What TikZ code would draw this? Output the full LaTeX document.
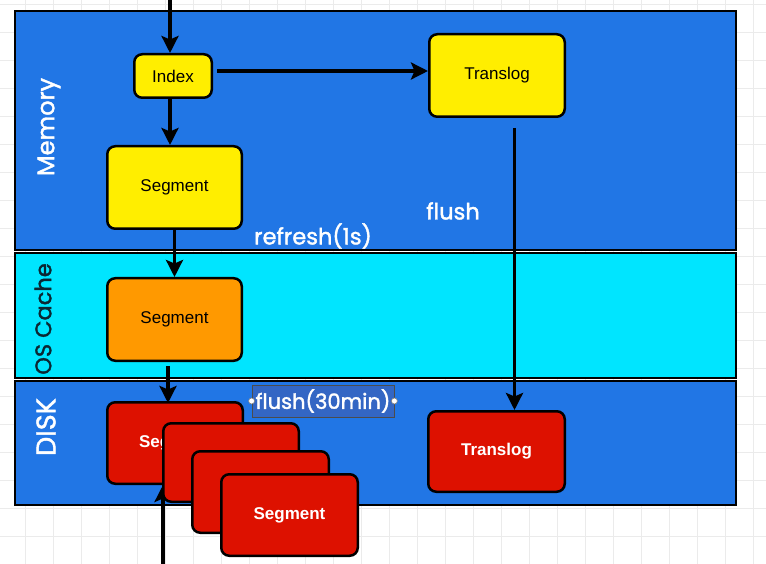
\documentclass[tikz,border=0pt]{standalone}
\usepackage{fontspec}
\setmainfont{Liberation Sans}
\newfontfamily\labfont[FakeBold=1.6]{Poppins}
\usetikzlibrary{arrows.meta}
\definecolor{bandblue}{HTML}{2176E5}
\definecolor{cachecyan}{HTML}{00E5FF}
\definecolor{memyellow}{HTML}{FFEE00}
\definecolor{cacheorange}{HTML}{FF9900}
\definecolor{diskred}{HTML}{DD1100}
\definecolor{selblue}{HTML}{3366C4}
\definecolor{gridgray}{HTML}{EBEBEB}
\definecolor{darktext}{HTML}{0B2733}
\begin{document}
\begin{tikzpicture}[x=1pt,y=-1pt,
  band/.style={draw=black, line width=2pt},
  box/.style={draw=black, line width=2.5pt, rounded corners=8pt, inner sep=0pt,
    font=\fontsize{17}{20}\selectfont},
  flow/.style={line width=3.5pt, -{Stealth[length=17pt,width=17pt,inset=3.5pt]}},
  lab/.style={text=white, font=\labfont\fontsize{22.5}{26}\selectfont, inner sep=0pt},
  handle/.style={circle, draw=gray, fill=white, line width=0.6pt, inner sep=0pt, minimum size=6pt}
]
\useasboundingbox (0,0) rectangle (766,564);
\fill[white] (0,0) rectangle (766,564);
% grid
\foreach \x in {25,53,...,765} \draw[gridgray, line width=0.8pt] (\x,0) -- (\x,564);
\foreach \y in {4,32,...,564} \draw[gridgray, line width=0.8pt] (0,\y) -- (766,\y);
% bands
\node[band, fill=bandblue, minimum width=721, minimum height=239, inner sep=0pt] (mem) at (375.5,130.5) {};
\node[band, fill=cachecyan, minimum width=721, minimum height=124, inner sep=0pt] (cache) at (375.5,315.5) {};
\node[band, fill=bandblue, minimum width=721, minimum height=124, inner sep=0pt] (disk) at (375.5,443) {};
% band labels
\node[lab, rotate=90, font=\labfont\fontsize{24}{28}\selectfont] (memlab) at (49,127) {Memory};
\node[lab, rotate=90, text=darktext] (cachelab) at (43,319) {OS Cache};
\node[lab, rotate=90, font=\labfont\fontsize{27}{30}\selectfont] (disklab) at (46,427) {DISK};
\node[lab] (refresh) at (313,236) {refresh(1s)};
\node[lab] (flush) at (453,211) {flush};
% memory boxes
\node[box, fill=memyellow, minimum width=77.5, minimum height=43.5] (idx) at (173,76) {Index};
\node[box, fill=memyellow, minimum width=135.5, minimum height=82.5] (tlm) at (497,75.5) {Translog};
\node[box, fill=memyellow, minimum width=134.5, minimum height=82.5] (segm) at (174.5,187.5) {Segment};
\node[box, fill=cacheorange, minimum width=134.5, minimum height=82.5] (segos) at (174.5,319.5) {Segment};
\node[box, fill=diskred, text=white, font=\fontsize{17}{20}\selectfont\bfseries, minimum width=136.5, minimum height=80.5] (tld) at (496.5,451.5) {Translog};
% arrows
\coordinate (topin) at (170,0);
\draw[flow] (topin) -- (topin |- idx.north);
\coordinate (a1) at ([shift={(4,-5)}]idx.east);
\draw[flow] (a1) -- (a1 -| tlm.west);
\coordinate (a2) at ([xshift=-3pt]idx.south);
\draw[flow] (a2) -- (a2 |- segm.north);
\draw[flow] (segm.south) -- (segos.north);
\coordinate (a4) at ([shift={(17.5,10)}]tlm.south);
\draw[flow] (a4) -- (a4 |- tld.north);
% disk segments
\node[box, fill=diskred, text=white, font=\fontsize{17}{20}\selectfont\bfseries, minimum width=135.5, minimum height=81.5] (seg1) at (175,443) {Segment};
\coordinate (a3) at ([xshift=-6.5pt,yshift=-4pt]segos.south);
\draw[flow] (a3) -- ([yshift=-2pt]a3 |- seg1.north);
\coordinate (bot) at (163,564);
\draw[flow] (bot) -- (bot |- seg1.south);
\node[box, fill=diskred, minimum width=135.5, minimum height=78.5] (seg2) at (231,462.5) {};
\node[box, fill=diskred, minimum width=136.5, minimum height=81.5] (seg3) at (260.5,492) {};
\node[box, fill=diskred, text=white, font=\fontsize{17}{20}\selectfont\bfseries, minimum width=136.5, minimum height=81.5] (seg4) at (289.5,515) {Segment};
% selected label
\node[lab, font=\labfont\fontsize{21}{24}\selectfont, draw=gray!60!black, line width=0.8pt, fill=selblue, minimum width=142, minimum height=32] (sel) at (323,401) {flush(30min)};
\node[handle] (h1) at (sel.west) {};
\node[handle] (h2) at (sel.east) {};
\end{tikzpicture}
\end{document}
